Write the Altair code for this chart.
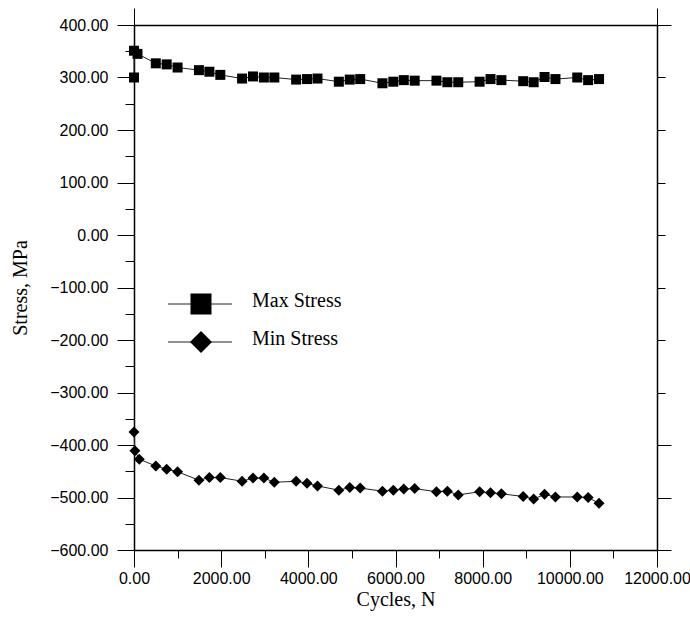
import altair as alt
import pandas as pd

# Cycle counts shared by both series after the first few readings
cycles = [500, 750, 1000, 1490, 1730, 1980, 2480, 2730, 2980, 3220, 3720, 3970,
          4210, 4700, 4950, 5190, 5700, 5950, 6190, 6440, 6940, 7190, 7440,
          7930, 8180, 8430, 8930, 9170, 9420, 9670, 10170, 10420, 10670]

max_cycles = [0, 0, 80] + cycles
max_stress = [300, 351, 345, 327, 325, 319, 314, 311, 305, 298, 302, 300, 300,
              296, 297, 298, 292, 296, 297, 289, 292, 295, 294, 294, 291, 291,
              292, 297, 295, 293, 291, 301, 297, 300, 295, 297]

min_cycles = [0, 20, 120] + cycles
min_stress = [-375, -411, -427, -440, -446, -451, -467, -462, -462, -469, -463,
              -463, -471, -469, -473, -478, -486, -481, -482, -488, -486, -484,
              -483, -489, -488, -495, -489, -491, -493, -498, -503, -494, -499,
              -499, -500, -511]

series_names = ["Max Stress", "Min Stress"]
x_ticks = list(range(0, 12001, 1000))
y_ticks = list(range(-600, 401, 50))
y_ticks_right = list(range(-600, 401, 100))

df = pd.DataFrame({
    "cycles": max_cycles + min_cycles,
    "stress": max_stress + min_stress,
    "series": [series_names[0]] * len(max_cycles) + [series_names[1]] * len(min_cycles),
    "idx": list(range(len(max_cycles))) + list(range(len(min_cycles))),
})

SANS = "Liberation Sans"
SERIF = "Liberation Serif"

x_scale = alt.Scale(domain=[0, 12000], nice=False, zero=False)
y_scale = alt.Scale(domain=[-600, 400], nice=False, zero=False)

x_axis = alt.Axis(
    values=x_ticks, grid=False, orient="bottom",
    tickSize={"condition": {"test": "datum.value % 2000 === 0", "value": 17}, "value": 8},
    labelExpr="datum.value % 2000 === 0 ? format(datum.value, '.2f') : ''",
    labelFlush=False, labelOverlap=False, labelPadding=3,
    labelFont=SANS, labelFontSize=16, labelColor="black",
    tickColor="black", tickWidth=1, domainColor="black", domainWidth=1.5,
    title="Cycles, N", titleFont=SERIF, titleFontSize=20, titleFontWeight="normal",
    titleColor="black", titlePadding=3,
)
y_axis = alt.Axis(
    values=y_ticks, grid=False, orient="left",
    tickSize={"condition": {"test": "datum.value % 100 === 0", "value": 17}, "value": 9},
    labelExpr="datum.value % 100 === 0 ? format(datum.value, '.2f') : ''",
    labelFlush=False, labelOverlap=False, labelPadding=9,
    labelFont=SANS, labelFontSize=16, labelColor="black",
    tickColor="black", tickWidth=1, domainColor="black", domainWidth=1.5,
    title="Stress, MPa", titleFont=SERIF, titleFontSize=20, titleFontWeight="normal",
    titleColor="black", titleX=-104,
)

base = alt.Chart(df)

lines = base.mark_line(color="#222222", strokeWidth=1).encode(
    x=alt.X("cycles:Q", scale=x_scale, axis=x_axis),
    y=alt.Y("stress:Q", scale=y_scale, axis=y_axis),
    detail="series:N",
    order=alt.Order("idx:Q"),
)

squares = base.transform_filter(alt.datum.series == series_names[0]).mark_point(
    shape="square", filled=True, size=100, color="black", opacity=1
).encode(
    x=alt.X("cycles:Q", scale=x_scale, axis=None),
    y=alt.Y("stress:Q", scale=y_scale, axis=None),
)

diamonds = base.transform_filter(alt.datum.series == series_names[1]).mark_point(
    shape="diamond", filled=True, size=121, color="black", opacity=1
).encode(
    x=alt.X("cycles:Q", scale=x_scale, axis=None),
    y=alt.Y("stress:Q", scale=y_scale, axis=None),
)

# Invisible layer that carries the top and right frame axes
frame = base.mark_point(opacity=0).encode(
    x=alt.X("cycles:Q", scale=x_scale, axis=alt.Axis(
        orient="top", values=[0, 12000], labels=False, grid=False, title=None,
        tickSize=17, tickColor="black", tickWidth=1,
        domainColor="black", domainWidth=1.5)),
    y=alt.Y("stress:Q", scale=y_scale, axis=alt.Axis(
        orient="right", values=y_ticks_right, labels=False, grid=False, title=None,
        tickSize={"condition": {"test": "abs(datum.value) >= 400", "value": 14}, "value": 8},
        tickColor="black", tickWidth=1, domainColor="black", domainWidth=1.5)),
)

# Hand-built legend in the upper-left of the plot
legend_df = pd.DataFrame({"label": series_names})
legend_layers = []
for name, shape, size, ly in [(series_names[0], "square", 441, 279),
                              (series_names[1], "diamond", 484, 317)]:
    entry = alt.Chart(legend_df).transform_filter(alt.datum.label == name)
    legend_layers.append(entry.mark_rule(color="#222222", strokeWidth=1).encode(
        x=alt.value(34), x2=alt.value(98), y=alt.value(ly)))
    legend_layers.append(entry.mark_point(
        shape=shape, filled=True, size=size, color="black", opacity=1
    ).encode(x=alt.value(67), y=alt.value(ly)))
    legend_layers.append(entry.mark_text(
        align="left", baseline="alphabetic", font=SERIF, fontSize=20, color="black"
    ).encode(x=alt.value(118), y=alt.value(ly + 3), text="label:N"))

chart = alt.layer(lines, squares, diamonds, frame, *legend_layers).resolve_axis(
    x="independent", y="independent"
).properties(
    width=523, height=525,
    padding={"left": 134, "top": 25, "right": 33, "bottom": 68},
    autosize=alt.AutoSizeParams(type="none"),
    background="white",
).configure_view(stroke=None)

chart.save("out.html", embed_options={"renderer": "svg", "actions": False})
